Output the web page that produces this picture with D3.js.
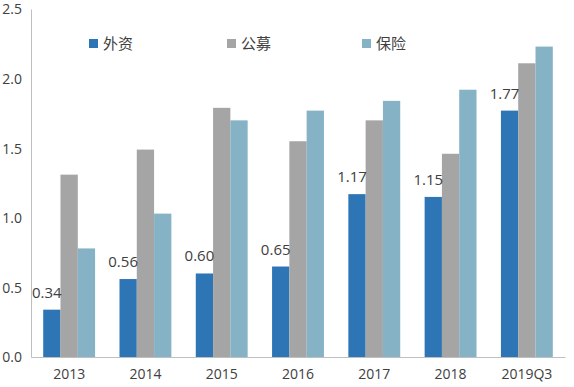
<!DOCTYPE html>
<html>
<head>
<meta charset="utf-8">
<script src="https://cdn.jsdelivr.net/npm/d3@7"></script>
<style>
  body { margin: 0; background: #fff; }
  svg text { font-family: "Open Sans", "Noto Sans CJK SC", sans-serif; fill: #404040; }
</style>
</head>
<body>
<svg id="chart"></svg>
<script>
// Data
const categories = ["2013", "2014", "2015", "2016", "2017", "2018", "2019Q3"];
const seriesNames = ["外资", "公募", "保险"];
const foreign = [0.34, 0.56, 0.60, 0.65, 1.17, 1.15, 1.77];
const publicFunds = [1.31, 1.49, 1.79, 1.55, 1.70, 1.46, 2.11];
const insurance = [0.78, 1.03, 1.70, 1.77, 1.84, 1.92, 2.23];
const yTicks = [0, 0.5, 1.0, 1.5, 2.0, 2.5];
const colors = ["#2e75b6", "#a5a5a5", "#86b2c6"];

const W = 574, H = 387;
let margin = {top: 9, right: 9, bottom: 30, left: 31},
    width = W - margin.left - margin.right,
    height = H - margin.top - margin.bottom;

let svg = d3.select("#chart").attr("width", W).attr("height", H);
let g = svg.append("g").attr("transform", "translate(" + margin.left + "," + margin.top + ")");

let x = d3.scaleBand().domain(categories).range([0, width]).paddingInner(0.32).paddingOuter(0.16);
let xs = d3.scaleBand().domain(seriesNames).range([0, x.bandwidth()]);
let y = d3.scaleLinear().domain([0, 2.5]).range([height, 0]);

const rows = categories.map((c, i) => ({cat: c, vals: [foreign[i], publicFunds[i], insurance[i]]}));

// bars
let groups = g.selectAll(".grp").data(rows).enter().append("g")
    .attr("transform", d => "translate(" + x(d.cat) + ",0)");
groups.selectAll("rect")
    .data(d => d.vals.map((v, k) => ({name: seriesNames[k], v: v, k: k})))
    .enter().append("rect")
    .attr("x", d => xs(d.name))
    .attr("width", xs.bandwidth())
    .attr("y", d => y(d.v))
    .attr("height", d => height - y(d.v))
    .attr("fill", d => colors[d.k]);

// labels for 外资
g.selectAll(".lbl").data(rows).enter().append("text")
    .attr("x", d => x(d.cat) + xs(seriesNames[0]) + xs.bandwidth() / 2 - 5)
    .attr("y", d => y(d.vals[0]) - 12)
    .attr("text-anchor", "middle")
    .style("font-size", "15px")
    .text(d => d.vals[0].toFixed(2));

// axes
let yAxis = d3.axisLeft(y).tickValues(yTicks).tickSize(0).tickPadding(9).tickFormat(d3.format(".1f"));
g.append("g").call(yAxis)
  .call(a => a.select(".domain").attr("stroke", "#bfbfbf"))
  .selectAll("text").style("font-size", "14px").attr("dy", "0.35em");

let xAxis = d3.axisBottom(x).tickSize(0).tickPadding(12);
g.append("g").attr("transform", "translate(0," + height + ")").call(xAxis)
  .call(a => a.select(".domain").attr("stroke", "#bfbfbf"))
  .selectAll("text").style("font-size", "14px");

// legend
const legendX = [89, 227, 362];
let leg = svg.selectAll(".leg").data(seriesNames).enter().append("g")
    .attr("transform", (d, i) => "translate(" + legendX[i] + ",39)");
leg.append("rect").attr("width", 9).attr("height", 9).attr("fill", (d, i) => colors[i]);
leg.append("text").attr("x", 14).attr("y", 5).attr("dy", "0.35em")
    .style("font-size", "15px").text(d => d);
</script>
</body>
</html>
